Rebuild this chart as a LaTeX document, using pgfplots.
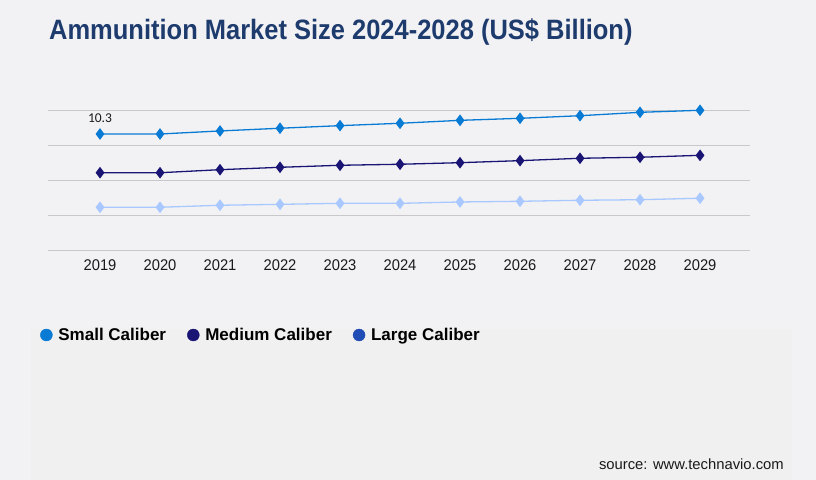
\documentclass[border=0pt]{standalone}
\usepackage{fontspec}
\setmainfont{Liberation Sans}
\newfontfamily\condfont[FakeStretch=0.95]{Liberation Sans}
\newfontfamily\titlefont[FakeStretch=0.91]{Liberation Sans}
\newfontfamily\labelfont{Carlito}
\usepackage{pgfplots}
\pgfplotsset{compat=1.18}

\definecolor{bgA}{HTML}{F2F2F4}
\definecolor{bgB}{HTML}{F0F0F1}
\definecolor{titlecol}{HTML}{1E3B6E}
\definecolor{gridc}{HTML}{C8C8CA}
\definecolor{smallc}{HTML}{0A7BD4}
\definecolor{medc}{HTML}{1A1575}
\definecolor{largec}{HTML}{A8C8FF}
\definecolor{largeleg}{HTML}{1F4DB5}
\definecolor{tickc}{HTML}{1A1A1A}

\begin{document}
\begin{tikzpicture}[x=1bp,y=1bp]
\fill[bgA] (0,0) rectangle (816,480);
\fill[bgB] (31,0) rectangle (792,151);
\node[anchor=base west, inner sep=0, text=titlecol,
      font=\titlefont\bfseries\fontsize{28bp}{32bp}\selectfont]
      at (49,440) {Ammunition Market Size 2024-2028 (US\$ Billion)};

\begin{axis}[
    at={(48bp,229.7bp)}, anchor=south west,
    scale only axis, width=702bp, height=140bp,
    xmin=2018.133, xmax=2029.833, ymin=0, ymax=12.4,
    xtick={2019,2020,2021,2022,2023,2024,2025,2026,2027,2028,2029},
    xticklabels={2019,2020,2021,2022,2023,2024,2025,2026,2027,2028,2029},
    ytick={0,3.1,6.2,9.3,12.4}, yticklabels={},
    ymajorgrids, grid style={draw=gridc, line width=0.9bp},
    axis line style={draw=none}, major tick length=0pt,
    /pgf/number format/assume math mode=true,
    tick label style={font=\condfont\fontsize{15.5bp}{18bp}\selectfont, text=tickc},
    xticklabel style={yshift=-6bp},
    clip=false,
    legend columns=3,
    legend entries={Small Caliber, Medium Caliber, Large Caliber},
    legend style={at={(-0.0114,-0.605)}, anchor=west, draw=none, fill=none,
        inner xsep=0pt, inner ysep=0pt,
        font=\bfseries\fontsize{17bp}{20bp}\selectfont,
        nodes={inner sep=2bp, text depth=0.15em},
        /tikz/every even column/.append style={column sep=19bp}},
]
% legend markers
\addlegendimage{legend image code/.code={\path[draw=none,fill=none] (0bp,0bp) -- (16bp,0bp); \fill[smallc] (6bp,0bp) circle (6bp);}}
\addlegendimage{legend image code/.code={\path[draw=none,fill=none] (0bp,0bp) -- (16bp,0bp); \fill[medc] (6bp,0bp) circle (6bp);}}
\addlegendimage{legend image code/.code={\path[draw=none,fill=none] (0bp,0bp) -- (16bp,0bp); \fill[largeleg] (6bp,0bp) circle (6bp);}}

% Small Caliber
\addplot[forget plot, color=smallc, line width=1.3bp, mark=diamond*, mark size=4.8bp] coordinates {
 (2019,10.3) (2020,10.3) (2021,10.57) (2022,10.81) (2023,11.04) (2024,11.25)
 (2025,11.51) (2026,11.69) (2027,11.92) (2028,12.22) (2029,12.4)};
% Medium Caliber
\addplot[forget plot, color=medc, line width=1.3bp, mark=diamond*, mark size=4.8bp] coordinates {
 (2019,6.87) (2020,6.87) (2021,7.14) (2022,7.35) (2023,7.53) (2024,7.62)
 (2025,7.76) (2026,7.94) (2027,8.15) (2028,8.24) (2029,8.41)};
% Large Caliber
\addplot[forget plot, color=largec, line width=1.3bp, mark=diamond*, mark size=4.8bp] coordinates {
 (2019,3.81) (2020,3.81) (2021,3.99) (2022,4.07) (2023,4.16) (2024,4.16)
 (2025,4.28) (2026,4.34) (2027,4.43) (2028,4.48) (2029,4.61)};

\node[font=\labelfont\fontsize{13.5bp}{15bp}\selectfont, text=tickc, inner sep=0]
   at (axis cs:2019,10.3) [yshift=15.7bp] {10.3};
\end{axis}

\node[anchor=base east, inner sep=0, text=tickc, font=\fontsize{14.8bp}{17bp}\selectfont]
   at (784,10.7) {source: www.technavio.com};
\pgfresetboundingbox
\useasboundingbox (0,0) rectangle (816,480);
\end{tikzpicture}
\end{document}
